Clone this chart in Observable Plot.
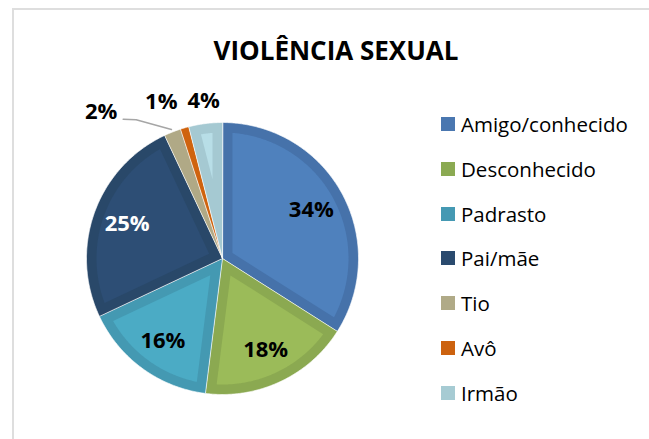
<!DOCTYPE html>
<html><head><meta charset="utf-8">
<script src="https://cdn.jsdelivr.net/npm/d3@7"></script>
<script src="https://cdn.jsdelivr.net/npm/@observablehq/plot@0.6"></script>
<style>
body{margin:0;background:#fff;font-family:"Open Sans",sans-serif;}
#wrap{position:relative;width:649px;height:439px;overflow:hidden;background:#fff;}
#frame{position:absolute;left:12px;top:8px;width:700px;height:500px;border:2px solid #dedede;}
#title{position:absolute;left:0;width:672px;top:37px;text-align:center;font-weight:700;font-size:26px;line-height:26px;color:#000;}
#chart{position:absolute;left:0;top:0;}
#legend{position:absolute;left:441px;top:0;}
.item{position:absolute;left:0;white-space:nowrap;font-size:20.5px;line-height:20px;color:#000;}
.sw{position:absolute;left:0;width:14px;height:14px;}
.lb{position:absolute;left:20px;}
</style></head><body>
<div id="wrap"><div id="frame"></div><div id="title">VIOLÊNCIA SEXUAL</div><div id="chart"></div><div id="legend"></div></div>
<script>
// ---- data ----
const categories = ["Amigo/conhecido","Desconhecido","Padrasto","Pai/mãe","Tio","Avô","Irmão"];
const values = [34, 18, 16, 25, 2, 1, 4];
const labels = ["34%","18%","16%","25%","2%","1%","4%"];

// ---- style ----
const outerColors = ["#4672AA","#8BA951","#4499B2","#294869","#B0A986","#CF630E","#A5C9D2"];
const innerColors = ["#4F81BD","#9BBB59","#4BABC5","#2D4E75","#B0A986","#CF630E","#B8DEE7"];
const legendColors = ["#4A77B0","#8BAA52","#4599B3","#2A4A6E","#B0AA87","#CC620F","#A6CBD3"];
const labelColors = ["#000","#000","#000","#fff","#000","#000","#000"];
const outside = [false,false,false,false,true,true,true];
const labelNudge = [[0,0],[0,0],[0,0],[0,0],[-63,1],[-17,-4],[1,0]];
const cx = 222, cy = 258, R = 136, bevelPx = 10;

// ---- geometry from data ----
const total = d3.sum(values);
let acc = 0;
const slices = values.map((v, i) => {
  const a0 = acc / total * 2 * Math.PI; acc += v;
  const a1 = acc / total * 2 * Math.PI;
  return {i, a0, a1, mid: (a0 + a1) / 2};
});
const pt = (a, r) => ({x: r * Math.sin(a), y: r * Math.cos(a)});
const step = Math.PI / 360;
const outerPts = [], innerPts = [];
for (const s of slices) {
  outerPts.push({...pt(0, 0), key: s.i});
  const n = Math.max(2, Math.ceil((s.a1 - s.a0) / step));
  for (let k = 0; k <= n; k++) outerPts.push({...pt(s.a0 + (s.a1 - s.a0) * k / n, 1), key: s.i});
  const b = bevelPx / R, rin = 1 - b, h = (s.a1 - s.a0) / 2;
  const apex = b / Math.sin(h);
  if (h < Math.PI / 2 && apex < rin * 0.9) {
    innerPts.push({...pt(s.mid, apex), key: s.i});
    const d = Math.asin(b / rin);
    const b0 = s.a0 + d, b1 = s.a1 - d;
    const m = Math.max(2, Math.ceil((b1 - b0) / step));
    for (let k = 0; k <= m; k++) innerPts.push({...pt(b0 + (b1 - b0) * k / m, rin), key: s.i});
  }
}
const labelData = slices.map(s => {
  const p = pt(s.mid, outside[s.i] ? 1.165 : 0.745);
  return {x: p.x + labelNudge[s.i][0] / R, y: p.y - labelNudge[s.i][1] / R, text: labels[s.i], fill: labelColors[s.i]};
});
// leader line for the "Tio" label
const tio = categories.indexOf("Tio");
const lp = labelData[tio];
const leader = [
  {x: lp.x + 22 / R, y: lp.y - 7 / R},
  {x: lp.x + 35 / R, y: lp.y - 7.5 / R},
  pt(slices[tio].mid, 1.02)
];

const chart = Plot.plot({
  width: 649, height: 439,
  style: {background: "transparent"},
  x: {domain: [-1, 1], range: [cx - R, cx + R], axis: null},
  y: {domain: [-1, 1], range: [cy + R, cy - R], axis: null},
  color: {type: "identity"},
  marks: [
    Plot.line(outerPts, {x: "x", y: "y", z: "key", fill: d => outerColors[d.key], stroke: "#ffffff", strokeWidth: 0.8, strokeOpacity: 0.8, curve: "linear-closed"}),
    Plot.line(innerPts, {x: "x", y: "y", z: "key", fill: d => innerColors[d.key], stroke: "none", curve: "linear-closed"}),
    Plot.line(leader, {x: "x", y: "y", stroke: "#a6a6a6", strokeWidth: 1.5}),
    Plot.text(labelData, {x: "x", y: "y", text: "text", fill: "fill", fontSize: 22, fontWeight: 700, fontFamily: "Open Sans"})
  ]
});
document.getElementById("chart").appendChild(chart);

// ---- legend ----
const leg = document.getElementById("legend");
categories.forEach((c, i) => {
  const cyL = 124 + i * 44.8;
  const it = document.createElement("div");
  it.className = "item";
  it.style.top = (cyL - 10) + "px";
  const sw = document.createElement("div");
  sw.className = "sw"; sw.style.background = legendColors[i]; sw.style.top = "3px";
  const lb = document.createElement("div");
  lb.className = "lb"; lb.textContent = c;
  it.appendChild(sw); it.appendChild(lb);
  leg.appendChild(it);
});
</script>
</body></html>
